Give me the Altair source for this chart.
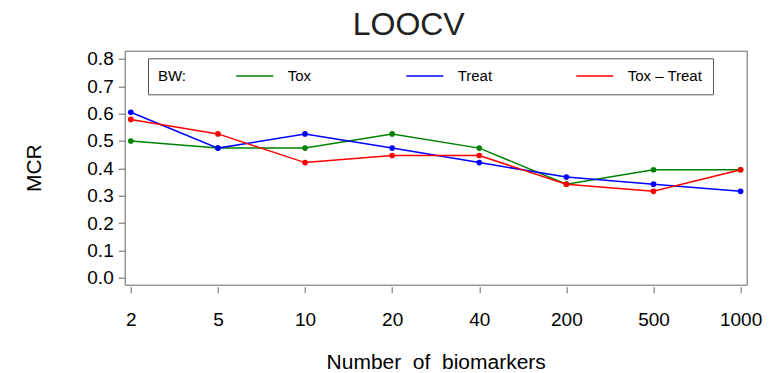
import altair as alt
import pandas as pd

categories = ["2", "5", "10", "20", "40", "200", "500", "1000"]
series_names = ["Tox", "Treat", "Tox \u2013 Treat"]
tox = [0.500, 0.474, 0.474, 0.526, 0.474, 0.342, 0.395, 0.395]
treat = [0.605, 0.474, 0.526, 0.474, 0.421, 0.368, 0.342, 0.316]
tox_treat = [0.579, 0.526, 0.421, 0.447, 0.447, 0.342, 0.316, 0.395]
colors = ["#008000", "#0000ff", "#ff0000"]
y_ticks = [0.0, 0.1, 0.2, 0.3, 0.4, 0.5, 0.6, 0.7, 0.8]

rows = []
for name, vals in zip(series_names, [tox, treat, tox_treat]):
    for c, v in zip(categories, vals):
        rows.append({"biomarkers": c, "MCR": v, "series": name})
df = pd.DataFrame(rows)

FONT = "Liberation Sans"

chart = alt.Chart(df).mark_line(
    strokeWidth=1.5,
    point=alt.OverlayMarkDef(filled=True, size=32, opacity=1),
).encode(
    x=alt.X("biomarkers:N", sort=categories,
            scale=alt.Scale(type="point", padding=0.07),
            axis=alt.Axis(title="Number\u00a0\u00a0of\u00a0\u00a0biomarkers", labelAngle=0,
                          labelBaseline="alphabetic", labelPadding=33,
                          offset=2, tickSize=6, domain=False, grid=False,
                          titleBaseline="alphabetic", titleY=82, titleFontSize=21,
                          titleFontWeight="normal")),
    y=alt.Y("MCR:Q",
            scale=alt.Scale(domain=[-0.0256, 0.8303], nice=False, zero=False),
            axis=alt.Axis(title="MCR", values=y_ticks, format=".1f", tickSize=6.5,
                          labelPadding=5, domain=False, grid=False,
                          titleAngle=-90, titleBaseline="alphabetic", titleAlign="center",
                          titleX=-84, titleY=117, titleFontSize=21,
                          titleFontWeight="normal")),
    color=alt.Color("series:N", sort=series_names,
                    scale=alt.Scale(domain=series_names, range=colors),
                    legend=alt.Legend(
                        title="BW:", orient="none", legendX=23.3, legendY=7.6,
                        direction="horizontal", columns=3, gridAlign="all",
                        symbolType="M-1,0H5", symbolSize=152, symbolStrokeWidth=1.5,
                        labelOffset=37.7, columnPadding=40,
                        titleOrient="left", titlePadding=48,
                        titleAnchor="middle", titleBaseline="middle",
                        strokeColor="#555555", fillColor="white", padding=10,
                    )),
).properties(
    width=622,
    height=234,
    title=alt.TitleParams("LOOCV", fontSize=32, fontWeight="normal", font=FONT,
                          anchor="middle", dx=-27, offset=8,
                          color="#222222"),
    autosize=alt.AutoSizeParams(type="none"),
    padding={"left": 116.7, "top": 42.7, "right": 17.3, "bottom": 88},
).configure_view(
    stroke="#666666", strokeWidth=1
).configure_axis(
    labelFont=FONT, titleFont=FONT, labelFontSize=19, labelColor="black",
    titleColor="black", tickColor="#666666", tickWidth=1
).configure_legend(
    labelFont=FONT, titleFont=FONT, labelFontSize=15, titleFontSize=15,
    titleFontWeight="normal", labelColor="black", titleColor="black"
)

chart.save("out.html", embed_options={"renderer": "svg", "actions": False})
